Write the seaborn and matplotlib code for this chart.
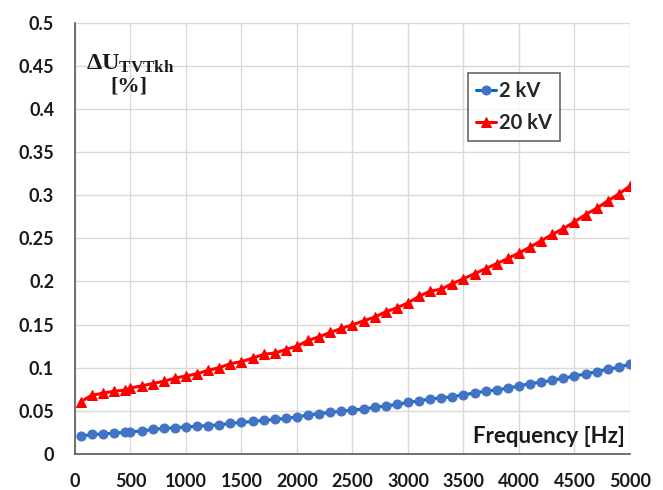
import matplotlib
matplotlib.use("Agg")
import matplotlib.pyplot as plt
import seaborn as sns
import pandas as pd

freq = [50, 150, 250, 350, 450] + list(range(500, 5001, 100))

u_2kv = [0.0204, 0.0227, 0.0231, 0.0242, 0.0250, 0.0258, 0.0265, 0.0285, 0.0296, 0.0304,
         0.0315, 0.0320, 0.0330, 0.0338, 0.0354, 0.0366, 0.0377, 0.0390, 0.0400, 0.0412,
         0.0430, 0.0450, 0.0468, 0.0481, 0.0497, 0.0508, 0.0523, 0.0539, 0.0558, 0.0574,
         0.0597, 0.0616, 0.0639, 0.0650, 0.0664, 0.0685, 0.0708, 0.0727, 0.0743, 0.0762,
         0.0789, 0.0816, 0.0831, 0.0855, 0.0878, 0.0904, 0.0927, 0.0955, 0.0982, 0.1005,
         0.1040]

u_20kv = [0.0604, 0.0680, 0.0704, 0.0727, 0.0740, 0.0766, 0.0789, 0.0816, 0.0843, 0.0878,
          0.0904, 0.0930, 0.0970, 0.1000, 0.1047, 0.1070, 0.1110, 0.1155, 0.1170, 0.1210,
          0.1250, 0.1316, 0.1359, 0.1409, 0.1455, 0.1497, 0.1543, 0.1586, 0.1648, 0.1694,
          0.1751, 0.1828, 0.1888, 0.1910, 0.1975, 0.2030, 0.2090, 0.2148, 0.2206, 0.2267,
          0.2329, 0.2398, 0.2471, 0.2544, 0.2613, 0.2690, 0.2775, 0.2848, 0.2933, 0.3014,
          0.3106]

series_labels = ["2 kV", "20 kV"]
x_ticks = list(range(0, 5001, 500))
y_ticks = [0, 0.05, 0.1, 0.15, 0.2, 0.25, 0.3, 0.35, 0.4, 0.45, 0.5]
y_tick_labels = ["0", "0.05", "0.1", "0.15", "0.2", "0.25", "0.3", "0.35", "0.4", "0.45", "0.5"]

sns.set_theme(style="white")
plt.rcParams["font.family"] = ["Lato", "DejaVu Sans"]
plt.rcParams["mathtext.fontset"] = "custom"
plt.rcParams["mathtext.bf"] = "Liberation Serif:bold"
plt.rcParams["mathtext.rm"] = "Liberation Serif:bold"

df1 = pd.DataFrame({"f": freq, "u": u_2kv})
df2 = pd.DataFrame({"f": freq, "u": u_20kv})

fig = plt.figure(figsize=(6.63, 4.90), dpi=100)
ax = fig.add_axes([0.1131, 0.0735, 0.8371, 0.8805])

sns.lineplot(data=df1, x="f", y="u", ax=ax, color="#0070C0", linewidth=2.2,
             marker="o", markersize=6.5, markerfacecolor="#4472C4",
             markeredgecolor="#4472C4", label=series_labels[0])
sns.lineplot(data=df2, x="f", y="u", ax=ax, color="#FF0000", linewidth=2.2,
             marker="^", markersize=7, markerfacecolor="#FF0000",
             markeredgecolor="#FF0000", label=series_labels[1])

ax.set_xlim(0, 5000)
ax.set_ylim(0, 0.5)
ax.set_xticks(x_ticks)
ax.set_yticks(y_ticks)
ax.set_yticklabels(y_tick_labels)
ax.set_xlabel("")
ax.set_ylabel("")
ax.grid(True, color="#D9D9D9", linewidth=1)
ax.set_axisbelow(True)
for s in ["top", "right"]:
    ax.spines[s].set_visible(False)
for s in ["left", "bottom"]:
    ax.spines[s].set_color("#595959")
    ax.spines[s].set_linewidth(1.2)
ax.tick_params(axis="both", length=0, labelsize=13)
ax.tick_params(axis="y", pad=15)
ax.tick_params(axis="x", pad=14)
for lab in ax.get_xticklabels() + ax.get_yticklabels():
    lab.set_fontweight("bold")
    lab.set_color("#1a1a1a")

leg = ax.legend(loc="upper left", bbox_to_anchor=(0.708, 0.884), borderaxespad=0,
                frameon=True, fancybox=False, handlelength=1.0, handletextpad=0.15,
                labelspacing=0.6, borderpad=0.4, prop={"weight": "bold", "size": 14.5})
leg.get_frame().set_edgecolor("#404040")
leg.get_frame().set_linewidth(1.2)

ax.text(0.99, 0.04, "Frequency [Hz]", transform=ax.transAxes, ha="right", va="center",
        fontsize=16, fontweight="bold", color="#1a1a1a")
ax.text(0.10, 0.905, r"$\mathbf{\Delta U_{TVTkh}}$", transform=ax.transAxes,
        ha="center", va="center", fontsize=17.5, color="#1a1a1a")
ax.text(0.097, 0.852, "[%]", transform=ax.transAxes, ha="center", va="center",
        fontsize=16, fontweight="bold", family="Liberation Serif", color="#1a1a1a")

fig.savefig("out.png", dpi=100)
